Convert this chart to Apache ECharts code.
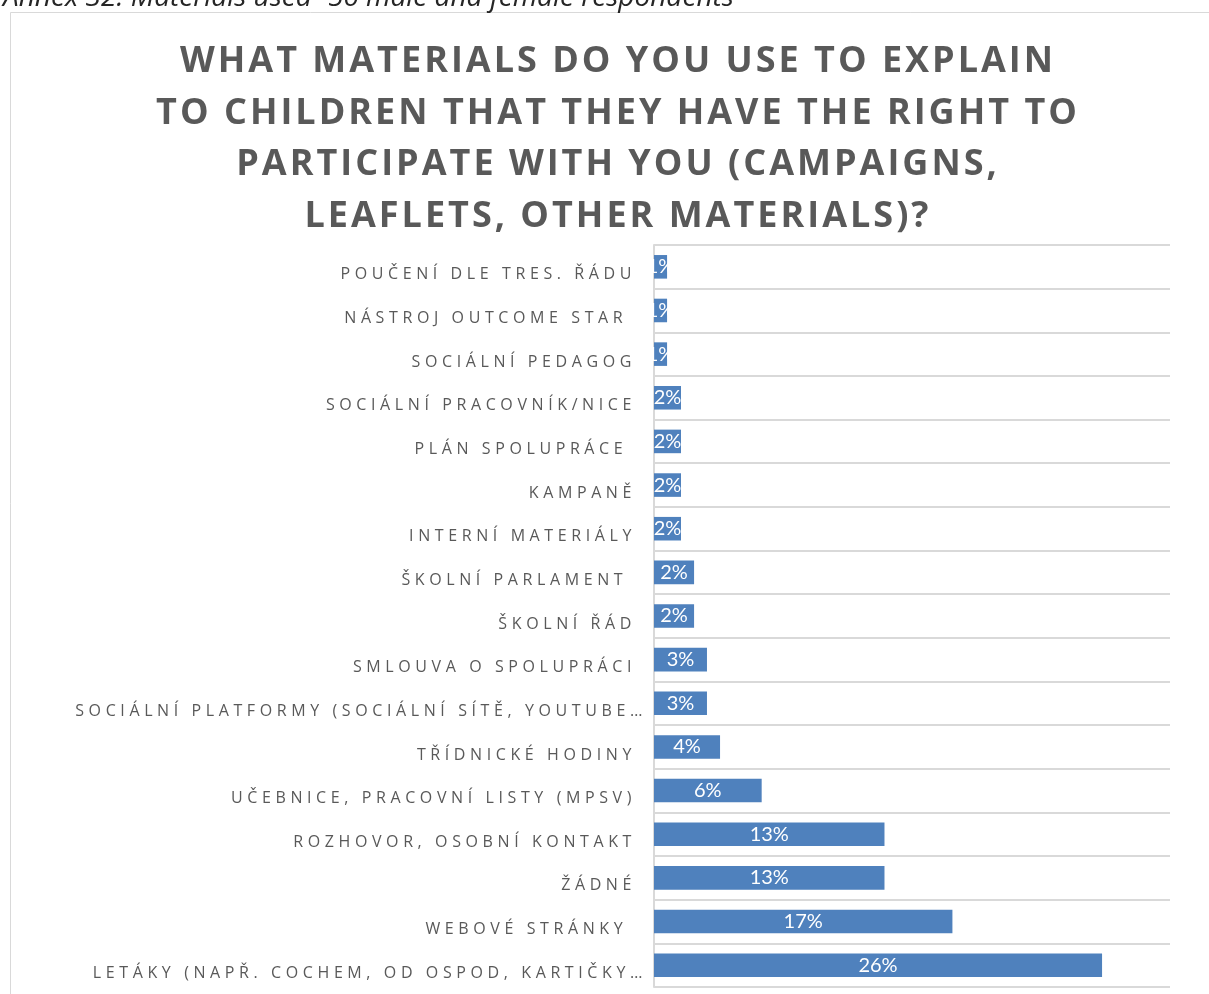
<!DOCTYPE html>
<html>
<head>
<meta charset="utf-8">
<title>Materials used</title>
<script src="https://cdn.jsdelivr.net/npm/echarts@6/dist/echarts.min.js"></script>
<style>
  html, body { margin: 0; padding: 0; background: #ffffff; }
  #chart { width: 1209px; height: 994px; }
</style>
</head>
<body>
<div id="chart"></div>
<script>
// Answers, top to bottom
const categories = [
  'POUČENÍ DLE TRES. ŘÁDU',
  'NÁSTROJ OUTCOME STAR ',
  'SOCIÁLNÍ PEDAGOG',
  'SOCIÁLNÍ PRACOVNÍK/NICE',
  'PLÁN SPOLUPRÁCE ',
  'KAMPANĚ',
  'INTERNÍ MATERIÁLY',
  'ŠKOLNÍ PARLAMENT ',
  'ŠKOLNÍ ŘÁD',
  'SMLOUVA O SPOLUPRÁCI',
  'SOCIÁLNÍ PLATFORMY (SOCIÁLNÍ SÍTĚ, YOUTUBE…',
  'TŘÍDNICKÉ HODINY',
  'UČEBNICE, PRACOVNÍ LISTY (MPSV)',
  'ROZHOVOR, OSOBNÍ KONTAKT',
  'ŽÁDNÉ',
  'WEBOVÉ STRÁNKY ',
  'LETÁKY (NAPŘ. COCHEM, OD OSPOD, KARTIČKY…'
];

// Share of answers, in percent
const shares = [
  0.76, 0.76, 0.76, 1.57, 1.57, 1.57, 1.57, 2.33, 2.33,
  3.08, 3.08, 3.84, 6.26, 13.4, 13.4, 17.35, 26.05
];

const titleLines = [
  'WHAT MATERIALS DO YOU USE TO EXPLAIN',
  'TO CHILDREN THAT THEY HAVE THE RIGHT TO',
  'PARTICIPATE WITH YOU (CAMPAIGNS,',
  'LEAFLETS, OTHER MATERIALS)?'
];
const caption = 'Annex 32: Materials used -56 male and female respondents';

// ECharts has no letter-spacing option; apply tracking on the canvas
// context whenever a matching font is set (drawing and measuring alike).
(function () {
  const desc = Object.getOwnPropertyDescriptor(CanvasRenderingContext2D.prototype, 'font');
  function spacingFor(font) {
    if (/bold/.test(font) && /\b36px/.test(font)) return '3px';
    if (/\b16px/.test(font) && !/bold/.test(font)) return '4.6px';
    return '0px';
  }
  Object.defineProperty(CanvasRenderingContext2D.prototype, 'font', {
    configurable: true,
    get() { return desc.get.call(this); },
    set(v) {
      desc.set.call(this, v);
      if ('letterSpacing' in this) this.letterSpacing = spacingFor(String(v));
    }
  });
})();

const chart = echarts.init(document.getElementById('chart'), null, { renderer: 'canvas' });

chart.setOption({
  backgroundColor: '#ffffff',
  animation: false,
  title: {
    text: titleLines.join('\n'),
    left: 613,
    top: 31,
    textAlign: 'center',
    textStyle: {
      fontFamily: '"Open Sans"',
      fontWeight: 'bold',
      fontSize: 36,
      lineHeight: 51.5,
      color: '#595959'
    }
  },
  graphic: [
    {
      type: 'rect',
      shape: { x: 10.5, y: 12.5, width: 1300, height: 1100 },
      style: { fill: 'none', stroke: '#d9d9d9', lineWidth: 1 },
      silent: true,
      z: -10
    },
    {
      type: 'text',
      left: 3,
      top: -16,
      style: {
        text: caption,
        font: 'italic 28px "Open Sans"',
        fill: '#262626'
      },
      silent: true
    }
  ],
  grid: {
    left: 654,
    top: 245,
    right: 39,
    bottom: 7,
    containLabel: false
  },
  xAxis: {
    type: 'value',
    min: 0,
    max: 30,
    show: false
  },
  yAxis: {
    type: 'category',
    inverse: true,
    data: categories,
    axisLine: { show: true, lineStyle: { color: '#d9d9d9', width: 2 } },
    axisTick: { show: false },
    splitLine: { show: true, lineStyle: { color: '#d9d9d9', width: 2 } },
    axisLabel: {
      margin: 2,
      color: '#595959',
      fontFamily: '"Open Sans"',
      fontSize: 16,
      // truncated names sit closer to the axis
      formatter: v => (v.endsWith('…') ? '{cut|' : '{full|') + v + '}',
      rich: {
        full: { fontFamily: '"Open Sans"', fontSize: 16, color: '#595959', padding: [16, 16, 0, 0] },
        cut: { fontFamily: '"Open Sans"', fontSize: 16, color: '#595959', padding: [16, 5, 0, 0] }
      }
    }
  },
  series: [
    {
      type: 'bar',
      data: shares,
      barCategoryGap: '46%',
      itemStyle: { color: '#4f81bd' },
      label: {
        show: true,
        position: 'inside',
        color: '#ffffff',
        fontFamily: 'Lato',
        fontSize: 20,
        formatter: p => Math.round(p.value) + '%'
      }
    }
  ]
});
</script>
</body>
</html>
